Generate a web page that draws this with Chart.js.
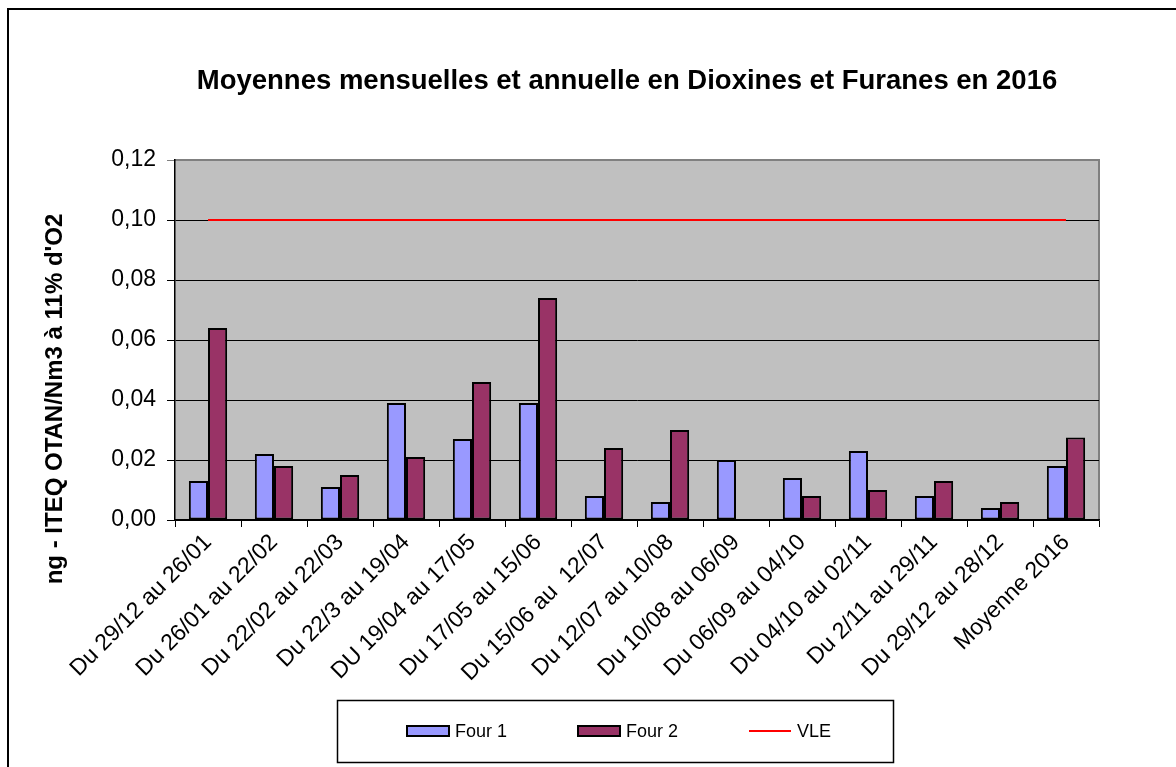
<!DOCTYPE html>
<html>
<head>
<meta charset="utf-8">
<script src="https://cdn.jsdelivr.net/npm/chart.js@4.4.1/dist/chart.umd.min.js"></script>
<style>
  html, body { margin: 0; padding: 0; background: #ffffff; }
  #wrap { width: 1176px; height: 767px; position: relative; }
</style>
</head>
<body>
<div id="wrap"><canvas id="c" width="1176" height="767"></canvas></div>
<script>
const chartTitle = "Moyennes mensuelles et annuelle en Dioxines et Furanes en 2016";
const yAxisTitle = "ng - ITEQ OTAN/Nm3 à 11% d'O2";
const categories = [
  "Du 29/12 au 26/01", "Du 26/01 au 22/02", "Du 22/02 au 22/03", "Du 22/3 au 19/04",
  "DU 19/04 au 17/05", "Du 17/05 au 15/06", "Du 15/06 au  12/07", "Du 12/07 au 10/08",
  "Du 10/08 au 06/09", "Du 06/09 au 04/10", "Du 04/10 au 02/11", "Du 2/11 au 29/11",
  "Du 29/12 au 28/12", "Moyenne 2016"
];
const four1 = [0.013, 0.022, 0.011, 0.039, 0.027, 0.039, 0.008, 0.006, 0.020, 0.014, 0.023, 0.008, 0.004, 0.018];
const four2 = [0.064, 0.018, 0.015, 0.021, 0.046, 0.074, 0.024, 0.030, null, 0.008, 0.010, 0.013, 0.006, 0.0275];
const vle = [0.10, 0.10, 0.10, 0.10, 0.10, 0.10, 0.10, 0.10, 0.10, 0.10, 0.10, 0.10, 0.10, 0.10];
const yTicks = [0, 0.02, 0.04, 0.06, 0.08, 0.10, 0.12];
const seriesNames = ["Four 1", "Four 2", "VLE"];

const FONT = "'Liberation Sans', Arial, sans-serif";

const decorPlugin = {
  id: 'decor',
  beforeDraw(chart) {
    const ctx = chart.ctx;
    const a = chart.chartArea;
    ctx.save();
    ctx.fillStyle = '#ffffff';
    ctx.fillRect(0, 0, chart.width, chart.height);
    // outer frame
    ctx.strokeStyle = '#000000';
    ctx.lineWidth = 2;
    ctx.strokeRect(8, 9, 1300, 900);
    // plot background
    ctx.fillStyle = '#c0c0c0';
    ctx.fillRect(a.left, a.top, a.right - a.left, a.bottom - a.top);
    ctx.strokeStyle = '#808080';
    ctx.lineWidth = 2;
    ctx.beginPath();
    ctx.moveTo(a.left, a.top);
    ctx.lineTo(a.right, a.top);
    ctx.lineTo(a.right, a.bottom);
    ctx.stroke();
    ctx.restore();
  },
  afterDraw(chart) {
    const ctx = chart.ctx;
    ctx.save();
    // y axis title
    ctx.translate(55, 399);
    ctx.rotate(-Math.PI / 2);
    ctx.fillStyle = '#000000';
    ctx.font = "bold 24px " + FONT;
    ctx.textAlign = 'center';
    ctx.textBaseline = 'middle';
    ctx.fillText(yAxisTitle, 0, 0);
    ctx.restore();

    // legend box
    ctx.save();
    ctx.fillStyle = '#ffffff';
    ctx.fillRect(337, 700, 556, 62);
    ctx.strokeStyle = '#000000';
    ctx.lineWidth = 1.5;
    ctx.strokeRect(337.5, 700.5, 556, 62);
    const xs = [407, 578, 749];
    const cy = 731;
    chart.data.datasets.forEach((ds, i) => {
      const x = xs[i];
      if (ds.type === 'line') {
        ctx.strokeStyle = ds.borderColor;
        ctx.lineWidth = 2;
        ctx.beginPath();
        ctx.moveTo(x, cy);
        ctx.lineTo(x + 42, cy);
        ctx.stroke();
      } else {
        ctx.fillStyle = ds.backgroundColor;
        ctx.fillRect(x, cy - 5, 42, 10);
        ctx.strokeStyle = '#000000';
        ctx.lineWidth = 2;
        ctx.strokeRect(x, cy - 5, 42, 10);
      }
      ctx.fillStyle = '#000000';
      ctx.font = "18px " + FONT;
      ctx.textAlign = 'left';
      ctx.textBaseline = 'middle';
      ctx.fillText(ds.label, x + 48, cy + 1);
    });
    ctx.restore();
  }
};

new Chart(document.getElementById('c'), {
  type: 'bar',
  data: {
    labels: categories,
    datasets: [
      {
        label: seriesNames[0], data: four1, backgroundColor: '#9999ff',
        borderColor: '#000000', borderWidth: 2, borderSkipped: false,
        barPercentage: 1.0, categoryPercentage: 0.58, order: 2
      },
      {
        label: seriesNames[1], data: four2, backgroundColor: '#993366',
        borderColor: '#000000', borderWidth: 2, borderSkipped: false,
        barPercentage: 1.0, categoryPercentage: 0.58, order: 2
      },
      {
        type: 'line', label: seriesNames[2], data: vle, borderColor: '#ff0000',
        backgroundColor: '#ff0000', borderWidth: 2, pointRadius: 0, fill: false, order: 1
      }
    ]
  },
  options: {
    responsive: false,
    animation: false,
    devicePixelRatio: 1,
    layout: { padding: { left: 78, right: 0, top: 0, bottom: 0 } },
    plugins: {
      legend: { display: false },
      tooltip: { enabled: false },
      title: {
        display: true,
        text: chartTitle,
        color: '#000000',
        font: { family: FONT, size: 27.5, weight: 'bold' },
        padding: { top: 65, bottom: 62 }
      }
    },
    scales: {
      x: {
        grid: { display: true, drawOnChartArea: false, drawTicks: true, tickLength: 7, color: '#000000', offset: true },
        border: { display: true, color: '#000000', width: 1.5 },
        ticks: {
          color: '#000000', font: { family: FONT, size: 23 },
          maxRotation: 45, minRotation: 45, autoSkip: false, padding: 2
        },
        afterFit(scale) { scale.height = 247; scale.paddingRight = 77; }
      },
      y: {
        min: 0, max: 0.12,
        afterBuildTicks(scale) { scale.ticks = yTicks.map(v => ({ value: v })); },
        grid: {
          color: (c) => (c.tick && Math.abs(c.tick.value - 0.12) < 1e-9) ? '#808080' : '#000000',
          lineWidth: 1, tickLength: 8, drawTicks: true
        },
        border: { display: true, color: '#000000', width: 1.5 },
        ticks: {
          color: '#000000', font: { family: FONT, size: 23 }, padding: 11,
          callback: (v) => Number(v).toFixed(2).replace('.', ',')
        },
        afterFit(scale) { scale.width = 97; }
      }
    }
  },
  plugins: [decorPlugin]
});
</script>
</body>
</html>
